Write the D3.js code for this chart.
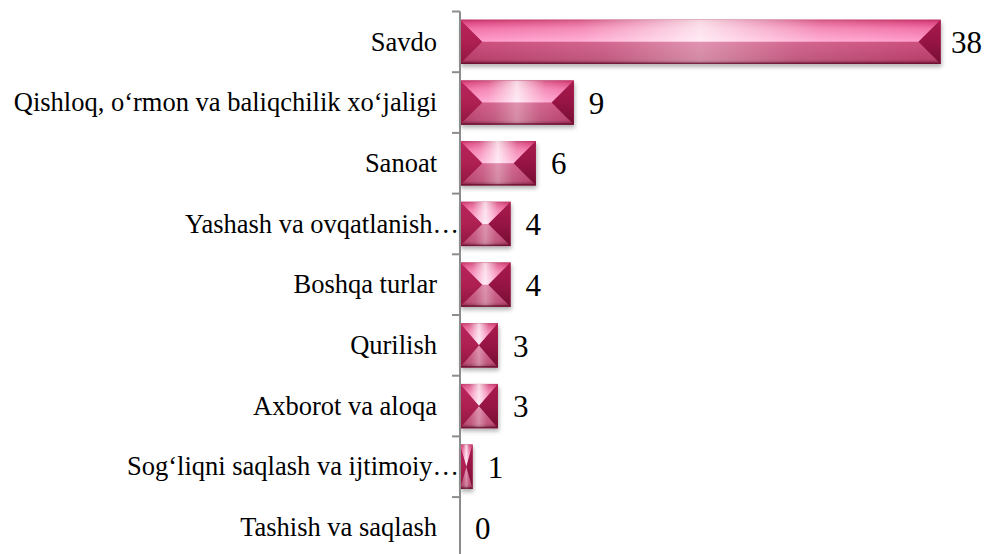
<!DOCTYPE html>
<html>
<head>
<meta charset="utf-8">
<script src="https://cdn.jsdelivr.net/npm/d3@7"></script>
<style>
  html, body { margin: 0; padding: 0; background: #ffffff; }
  svg { display: block; }
  text { font-family: "Liberation Serif", "Times New Roman", serif; fill: #000; }
</style>
</head>
<body>
<div id="chart"></div>
<script>
// ---- data ----
const categories = [
  "Savdo",
  "Qishloq, o\u2018rmon va baliqchilik xo\u2018jaligi",
  "Sanoat",
  "Yashash va ovqatlanish\u2026",
  "Boshqa turlar",
  "Qurilish",
  "Axborot va aloqa",
  "Sog\u2018liqni saqlash va ijtimoiy\u2026",
  "Tashish va saqlash"
];
const values = [38, 9, 6, 4, 4, 3, 3, 1, 0];

// ---- layout ----
const W = 984, H = 554;
const axisX = 460;

const svg = d3.select("#chart").append("svg")
  .attr("width", W).attr("height", H);

const defs = svg.append("defs");

function linGrad(id, dir, stops) {
  const g = defs.append("linearGradient").attr("id", id)
    .attr("x1", 0).attr("y1", 0)
    .attr("x2", dir === "h" ? 1 : 0).attr("y2", dir === "h" ? 0 : 1);
  stops.forEach(s => g.append("stop").attr("offset", s[0])
    .attr("stop-color", s[1]).attr("stop-opacity", s[2] == null ? 1 : s[2]));
}
linGrad("gTop", "v", [[0, "#c02a5e"], [0.12, "#dc4680"], [0.4, "#f270a6"], [1, "#ff9ccc"]]);
linGrad("gTopGlow", "h", [[0, "#ffffff", 0], [0.25, "#ffffff", 0.2], [0.5, "#ffffff", 0.8], [0.75, "#ffffff", 0.2], [1, "#ffffff", 0]]);
linGrad("gLow", "v", [[0, "#cc4c7c"], [0.8, "#b63e6a"], [1, "#7a1a3c"]]);
linGrad("gLowGlow", "h", [[0, "#ffffff", 0], [0.3, "#ffffff", 0.15], [0.5, "#ffffff", 0.4], [0.7, "#ffffff", 0.15], [1, "#ffffff", 0]]);
linGrad("gLeft", "v", [[0, "#b8245a"], [0.5, "#ae2052"], [1, "#8e1640"]]);
linGrad("gRight", "v", [[0, "#a81a4c"], [0.5, "#961444"], [1, "#740e32"]]);

const shadow = defs.append("filter").attr("id", "shadow")
  .attr("x", "-10%").attr("y", "-20%").attr("width", "130%").attr("height", "160%");
shadow.append("feDropShadow").attr("dx", 1).attr("dy", 3)
  .attr("stdDeviation", 2).attr("flood-color", "#000").attr("flood-opacity", 0.3);

// scales
const x = d3.scaleLinear().domain([0, 38]).range([axisX, 940.7]);
const yTop = 11.5, yBot = 557.8;
const yBand = d3.scaleBand().domain(categories).range([yTop, yBot]).padding(0);
const yBar = d3.scaleBand().domain(categories).range([yTop, yBot])
  .paddingInner(0.27).paddingOuter(0.135);

const data = categories.map((c, i) => ({ c, v: values[i] }));

// bars
const bars = svg.append("g").selectAll("g.bar")
  .data(data.filter(d => d.v > 0)).join("g")
  .attr("class", "bar")
  .attr("transform", d => `translate(${x(0)},${yBar(d.c)})`);

bars.each(function (d) {
  const g = d3.select(this);
  const w = x(d.v) - x(0);
  const h = yBar.bandwidth();
  const b = Math.min(w / 2, h / 2);
  const m = h / 2;
  const pts = a => a.map(p => p.join(",")).join(" ");
  g.append("rect").attr("width", w).attr("height", h)
    .attr("fill", "#b63e6a").attr("filter", "url(#shadow)");
  // bottom facet
  const low = [[0, h], [b, m], [w - b, m], [w, h]];
  g.append("polygon").attr("points", pts(low)).attr("fill", "url(#gLow)");
  g.append("polygon").attr("points", pts(low)).attr("fill", "url(#gLowGlow)");
  // top facet
  const top = [[0, 0], [w, 0], [w - b, m], [b, m]];
  g.append("polygon").attr("points", pts(top)).attr("fill", "url(#gTop)");
  g.append("polygon").attr("points", pts(top)).attr("fill", "url(#gTopGlow)");
  // side facets
  g.append("polygon").attr("points", pts([[0, 0], [b, m], [0, h]])).attr("fill", "url(#gLeft)");
  g.append("polygon").attr("points", pts([[w, 0], [w, h], [w - b, m]])).attr("fill", "url(#gRight)");
  // bottom dark edge
  g.append("rect").attr("y", h - 1.5).attr("width", w).attr("height", 1.5)
    .attr("fill", "#6a0e2e").attr("opacity", 0.75);
});

// axis line and boundary ticks
const axisG = svg.append("g").attr("class", "axis");
axisG.append("line")
  .attr("x1", axisX).attr("x2", axisX)
  .attr("y1", yTop).attr("y2", yBot)
  .attr("stroke", "#8c8c8c").attr("stroke-width", 2);
const tickYs = categories.map(c => yBand(c)).concat([yBot]);
axisG.selectAll("line.tick").data(tickYs).join("line")
  .attr("class", "tick")
  .attr("x1", axisX - 8).attr("x2", axisX)
  .attr("y1", d => d).attr("y2", d => d)
  .attr("stroke", "#8c8c8c").attr("stroke-width", 2);

// category labels
svg.append("g").selectAll("text.cat").data(data).join("text")
  .attr("class", "cat")
  .attr("x", d => d.c.endsWith("\u2026") ? axisX - 1 : axisX - 23)
  .attr("y", d => yBand(d.c) + yBand.bandwidth() / 2)
  .attr("dy", "0.33em")
  .attr("text-anchor", "end")
  .style("font-size", "26.5px")
  .text(d => d.c);

// value labels
const vl = svg.append("g").selectAll("text.val").data(data).join("text")
  .attr("class", "val")
  .attr("y", d => yBand(d.c) + yBand.bandwidth() / 2)
  .attr("dy", "0.36em")
  .style("font-size", "31px")
  .text(d => d.v);
vl.each(function (d) {
  const t = d3.select(this);
  const tw = this.getComputedTextLength();
  t.attr("x", Math.min(x(d.v) + 15, W - 2 - tw));
});
</script>
</body>
</html>
